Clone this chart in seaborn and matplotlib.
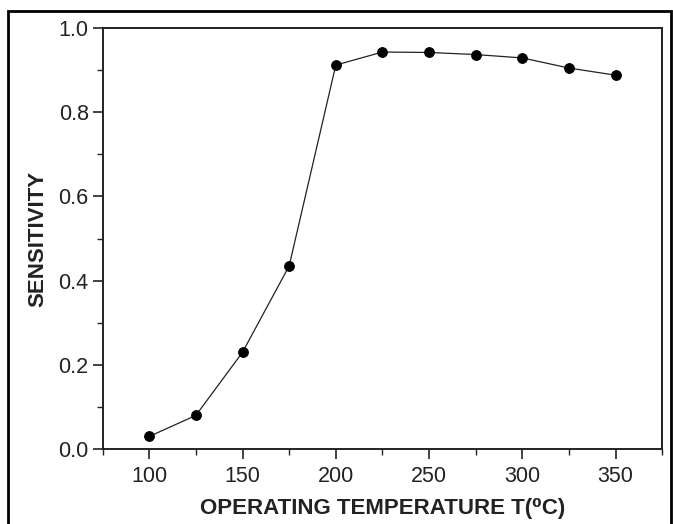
import matplotlib
matplotlib.use("Agg")
import matplotlib.pyplot as plt
from matplotlib.patches import Rectangle
from matplotlib.ticker import MultipleLocator
import seaborn as sns
import pandas as pd

# Sensitivity versus operating temperature
temperature = [100, 125, 150, 175, 200, 225, 250, 275, 300, 325, 350]
sensitivity = [0.03, 0.08, 0.23, 0.435, 0.912, 0.943, 0.942, 0.937, 0.929, 0.905, 0.888]

x_ticks = [100, 150, 200, 250, 300, 350]
y_ticks = [0.0, 0.2, 0.4, 0.6, 0.8, 1.0]

sns.set_style("ticks")
plt.rcParams["font.family"] = ["Liberation Sans", "DejaVu Sans"]

df = pd.DataFrame({"T": temperature, "S": sensitivity})

fig = plt.figure(figsize=(6.73, 5.24), dpi=100)
ax = fig.add_axes([0.1525, 0.143, 0.8315, 0.8035])

sns.lineplot(data=df, x="T", y="S", ax=ax, color="#222222", linewidth=0.9,
             marker="o", markersize=7, markerfacecolor="black",
             markeredgecolor="black")

ax.set_xlim(75, 375)
ax.set_ylim(0.0, 1.0)
ax.set_xticks(x_ticks)
ax.set_yticks(y_ticks)
ax.set_xticklabels([str(t) for t in x_ticks])
ax.set_yticklabels([f"{v:.1f}" for v in y_ticks])
ax.xaxis.set_minor_locator(MultipleLocator(25))
ax.yaxis.set_minor_locator(MultipleLocator(0.1))

ax.tick_params(axis="both", which="major", direction="out", length=7,
               width=1.2, color="#222222", labelsize=15.5, labelcolor="#222222")
ax.tick_params(axis="x", which="major", pad=5)
ax.tick_params(axis="y", which="major", pad=3)
ax.tick_params(axis="both", which="minor", direction="out", length=4,
               width=1.0, color="#222222")

for side in ["top", "right", "bottom", "left"]:
    ax.spines[side].set_visible(True)
    ax.spines[side].set_linewidth(1.4)
    ax.spines[side].set_color("#222222")

ax.set_xlabel("OPERATING TEMPERATURE T(⁰C)", fontsize=16, fontweight="bold",
              color="#222222", labelpad=8)
ax.set_ylabel("SENSITIVITY", fontsize=16, fontweight="bold",
              color="#222222", labelpad=7)

# outer frame around the figure
fig.patches.append(Rectangle((0.012, -0.05), 0.985, 0.029 + 1.0, transform=fig.transFigure,
                             fill=False, edgecolor="black", linewidth=2.0))

fig.savefig("out.png", dpi=100)
